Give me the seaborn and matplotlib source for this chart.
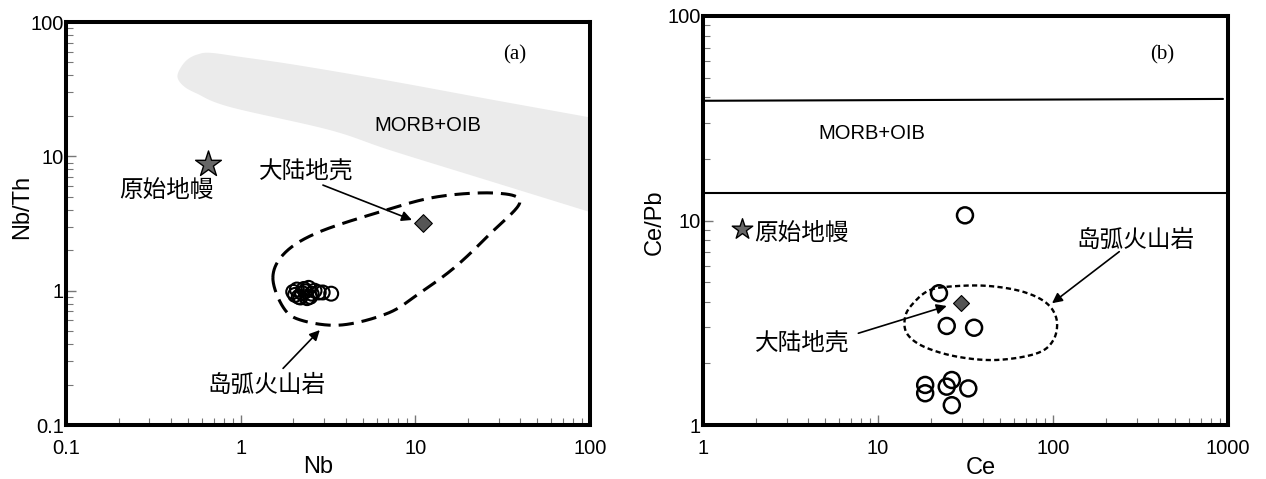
import numpy as np
import matplotlib
matplotlib.use("Agg")
import matplotlib.pyplot as plt
from matplotlib.ticker import LogLocator, NullFormatter
import seaborn as sns

# ---------------- (a) Nb vs Nb/Th ----------------
nb_samples = [2.0, 2.05, 2.1, 2.15, 2.25, 2.3, 2.35, 2.45, 2.5, 2.55, 2.65, 2.8, 2.95, 3.3, 2.2, 2.4]
nbth_samples = [0.98, 0.93, 1.02, 0.90, 0.96, 1.03, 0.99, 1.05, 0.90, 0.95, 1.00, 0.97, 0.97, 0.95, 0.89, 0.88]
pm_nb, pm_nbth = 0.65, 8.8          # primitive mantle
cc_nb, cc_nbth = 11.0, 3.2          # continental crust

# MORB+OIB field outline (clockwise from the rounded end)
morb_nb = [0.435, 0.455, 0.50, 0.57, 0.67, 1.0, 2.1, 7.2, 26.7, 100, 300,
           300, 100, 26.7, 7.2, 3.24, 0.87, 0.56, 0.47]
morb_nbth = [39, 46, 53, 57.5, 59, 55, 47.8, 36.4, 26.6, 19.5, 15,
             2.47, 3.85, 6.55, 11.1, 15.7, 23.3, 29.4, 33.5]

# island-arc volcanic field
arc_nb = [1.53, 1.79, 2.73, 5.95, 13.1, 28.6, 39.7, 27.1, 16.9, 10.6, 6.97, 3.75, 2.21, 1.75]
arc_nbth = [1.26, 1.91, 2.69, 3.78, 4.98, 5.33, 4.57, 2.69, 1.50, 0.96, 0.68, 0.555, 0.604, 0.755]

# ---------------- (b) Ce vs Ce/Pb ----------------
ce_samples = [31.4, 22.3, 24.7, 35.4, 18.6, 18.6, 24.7, 26.4, 32.8, 26.4]
cepb_samples = [10.6, 4.41, 3.05, 2.99, 1.57, 1.43, 1.54, 1.66, 1.51, 1.25]
pm_ce, pm_cepb = 1.68, 9.05
cc_ce, cc_cepb = 29.7, 3.94

morb_upper_ce = [1.0, 936]
morb_upper_cepb = [38.5, 39.3]
morb_lower_ce = [1.0, 1000]
morb_lower_cepb = [13.6, 13.6]

arc_ce = [19.8, 28.2, 43.6, 67.6, 92.0, 105, 100.4, 80.7, 47.7, 28.2, 18.2, 14.6, 14.3, 15.9]
arc_cepb = [4.57, 4.78, 4.78, 4.48, 3.94, 3.26, 2.60, 2.24, 2.08, 2.16, 2.42, 2.81, 3.39, 3.94]

CJK = ["Noto Sans CJK SC", "DejaVu Sans"]

sns.set_theme(style="white")
plt.rcParams["font.family"] = ["Liberation Sans", "Noto Sans CJK SC", "DejaVu Sans"]
plt.rcParams["axes.unicode_minus"] = False
plt.rcParams["text.color"] = "black"
plt.rcParams["axes.labelcolor"] = "black"


def closed_spline(xs, ys, n=30):
    """Smooth closed outline (Catmull-Rom in log-log space)."""
    p = np.column_stack([np.log10(xs), np.log10(ys)])
    m = len(p)
    t = np.linspace(0, 1, n, endpoint=False)[:, None]
    segs = []
    for i in range(m):
        p0, p1, p2, p3 = p[i - 1], p[i], p[(i + 1) % m], p[(i + 2) % m]
        segs.append(0.5 * (2 * p1 + (-p0 + p2) * t
                           + (2 * p0 - 5 * p1 + 4 * p2 - p3) * t ** 2
                           + (-p0 + 3 * p1 - 3 * p2 + p3) * t ** 3))
    out = np.vstack(segs + [p[:1]])
    return 10 ** out[:, 0], 10 ** out[:, 1]


def style_axes(ax, xticks, xlabels, yticks, ylabels):
    ax.set_xscale("log")
    ax.set_yscale("log")
    ax.set_xticks(xticks)
    ax.set_xticklabels(xlabels)
    ax.set_yticks(yticks)
    ax.set_yticklabels(ylabels)
    for axis in (ax.xaxis, ax.yaxis):
        axis.set_minor_locator(LogLocator(base=10, subs=np.arange(2, 10)))
        axis.set_minor_formatter(NullFormatter())
    for sp in ax.spines.values():
        sp.set_linewidth(2.9)
        sp.set_color("black")
        sp.set_visible(True)
    ax.tick_params(which="both", direction="in", top=False, right=False,
                   bottom=True, left=True, colors="#777777", labelcolor="black",
                   labelsize=14.5)
    ax.tick_params(which="major", length=7, width=1.0)
    ax.tick_params(which="minor", length=5, width=0.8)
    ax.tick_params(axis="x", which="both", pad=10)
    ax.tick_params(axis="y", which="both", pad=1.5)
    ax.grid(False)
    ax.set_facecolor("white")


def hollow(ax, x, y, s, lw):
    sns.scatterplot(x=x, y=y, ax=ax, s=s, marker="o", color="black", linewidth=lw,
                    zorder=5, legend=False)
    coll = ax.collections[-1]
    coll.set_facecolor("none")
    coll.set_edgecolor("black")


def arrow(ax, start, end):
    ax.annotate("", xy=end, xytext=start,
                arrowprops=dict(arrowstyle="-|>", color="black", lw=1.2,
                                mutation_scale=15, shrinkA=0, shrinkB=0),
                zorder=6)


fig = plt.figure(figsize=(12.66, 4.79), dpi=100)
ax_a = fig.add_axes([0.0521, 0.1127, 0.4139, 0.8413])
ax_b = fig.add_axes([0.5553, 0.1127, 0.4147, 0.8539])

# ---------------- panel (a) ----------------
bx, by = closed_spline(morb_nb, morb_nbth)
ax_a.fill(bx, by, color="#ebebeb", lw=0, zorder=0)
ex, ey = closed_spline(arc_nb, arc_nbth)
ax_a.plot(ex, ey, color="black", lw=2.2, ls=(0, (5, 2.6)), zorder=3)

hollow(ax_a, nb_samples, nbth_samples, 100, 1.5)
sns.scatterplot(x=[pm_nb], y=[pm_nbth], ax=ax_a, marker="*", s=380,
                color="#666666", edgecolor="black", linewidth=1.0, zorder=6, legend=False)
sns.scatterplot(x=[cc_nb], y=[cc_nbth], ax=ax_a, marker="D", s=81,
                color="#555555", edgecolor="black", linewidth=0.8, zorder=6, legend=False)

arrow(ax_a, (2.96, 6.11), (9.57, 3.36))
arrow(ax_a, (1.75, 0.264), (2.84, 0.509))

ax_a.text(0.377, 5.6, "原始地幔", family=CJK, fontsize=17, ha="center", va="center")
ax_a.text(2.39, 7.7, "大陆地壳", family=CJK, fontsize=17, ha="center", va="center")
ax_a.text(1.41, 0.198, "岛弧火山岩", family=CJK, fontsize=17, ha="center", va="center")
ax_a.text(11.8, 17.1, "MORB+OIB", fontsize=14.5, ha="center", va="center")
ax_a.text(37.2, 56.8, "(a)", family="Liberation Serif", fontsize=15, ha="center", va="center")

ax_a.set_xlim(0.1, 100)
ax_a.set_ylim(0.1, 100)
style_axes(ax_a, [0.1, 1, 10, 100], ["0.1", "1", "10", "100"],
           [0.1, 1, 10, 100], ["0.1", "1", "10", "100"])
ax_a.set_xlabel("Nb", fontsize=17)
ax_a.set_ylabel("Nb/Th", fontsize=17)
ax_a.xaxis.set_label_coords(0.482, -0.104)
ax_a.yaxis.set_label_coords(-0.0845, 0.542)
ax_a.xaxis.label.set_va("center")
ax_a.yaxis.label.set_va("center")

# ---------------- panel (b) ----------------
ax_b.plot(morb_upper_ce, morb_upper_cepb, color="black", lw=1.5, zorder=3)
ax_b.plot(morb_lower_ce, morb_lower_cepb, color="black", lw=1.5, zorder=3)
ex, ey = closed_spline(arc_ce, arc_cepb)
ax_b.plot(ex, ey, color="black", lw=1.7, ls=(0, (2.2, 1.4)), zorder=3)

hollow(ax_b, ce_samples, cepb_samples, 132, 1.8)
sns.scatterplot(x=[pm_ce], y=[pm_cepb], ax=ax_b, marker="*", s=240,
                color="#666666", edgecolor="black", linewidth=1.0, zorder=6, legend=False)
sns.scatterplot(x=[cc_ce], y=[cc_cepb], ax=ax_b, marker="D", s=66,
                color="#555555", edgecolor="black", linewidth=0.8, zorder=6, legend=False)

arrow(ax_b, (239, 7.04), (98.7, 3.94))
arrow(ax_b, (7.72, 2.81), (24.7, 3.82))

ax_b.text(1.96, 8.68, "原始地幔", family=CJK, fontsize=17, ha="left", va="center")
ax_b.text(3.68, 2.51, "大陆地壳", family=CJK, fontsize=17, ha="center", va="center")
ax_b.text(294, 8.03, "岛弧火山岩", family=CJK, fontsize=17, ha="center", va="center")
ax_b.text(9.2, 26.7, "MORB+OIB", fontsize=14.5, ha="center", va="center")
ax_b.text(420, 64.4, "(b)", family="Liberation Serif", fontsize=15, ha="center", va="center")

ax_b.set_xlim(1, 1000)
ax_b.set_ylim(1, 100)
style_axes(ax_b, [1, 10, 100, 1000], ["1", "10", "100", "1000"],
           [1, 10, 100], ["1", "10", "100"])
ax_b.set_xlabel("Ce", fontsize=17)
ax_b.set_ylabel("Ce/Pb", fontsize=17)
ax_b.xaxis.set_label_coords(0.53, -0.104)
ax_b.yaxis.set_label_coords(-0.0914, 0.496)
ax_b.xaxis.label.set_va("center")
ax_b.yaxis.label.set_va("center")

fig.savefig("out.png", dpi=100, facecolor="white")
